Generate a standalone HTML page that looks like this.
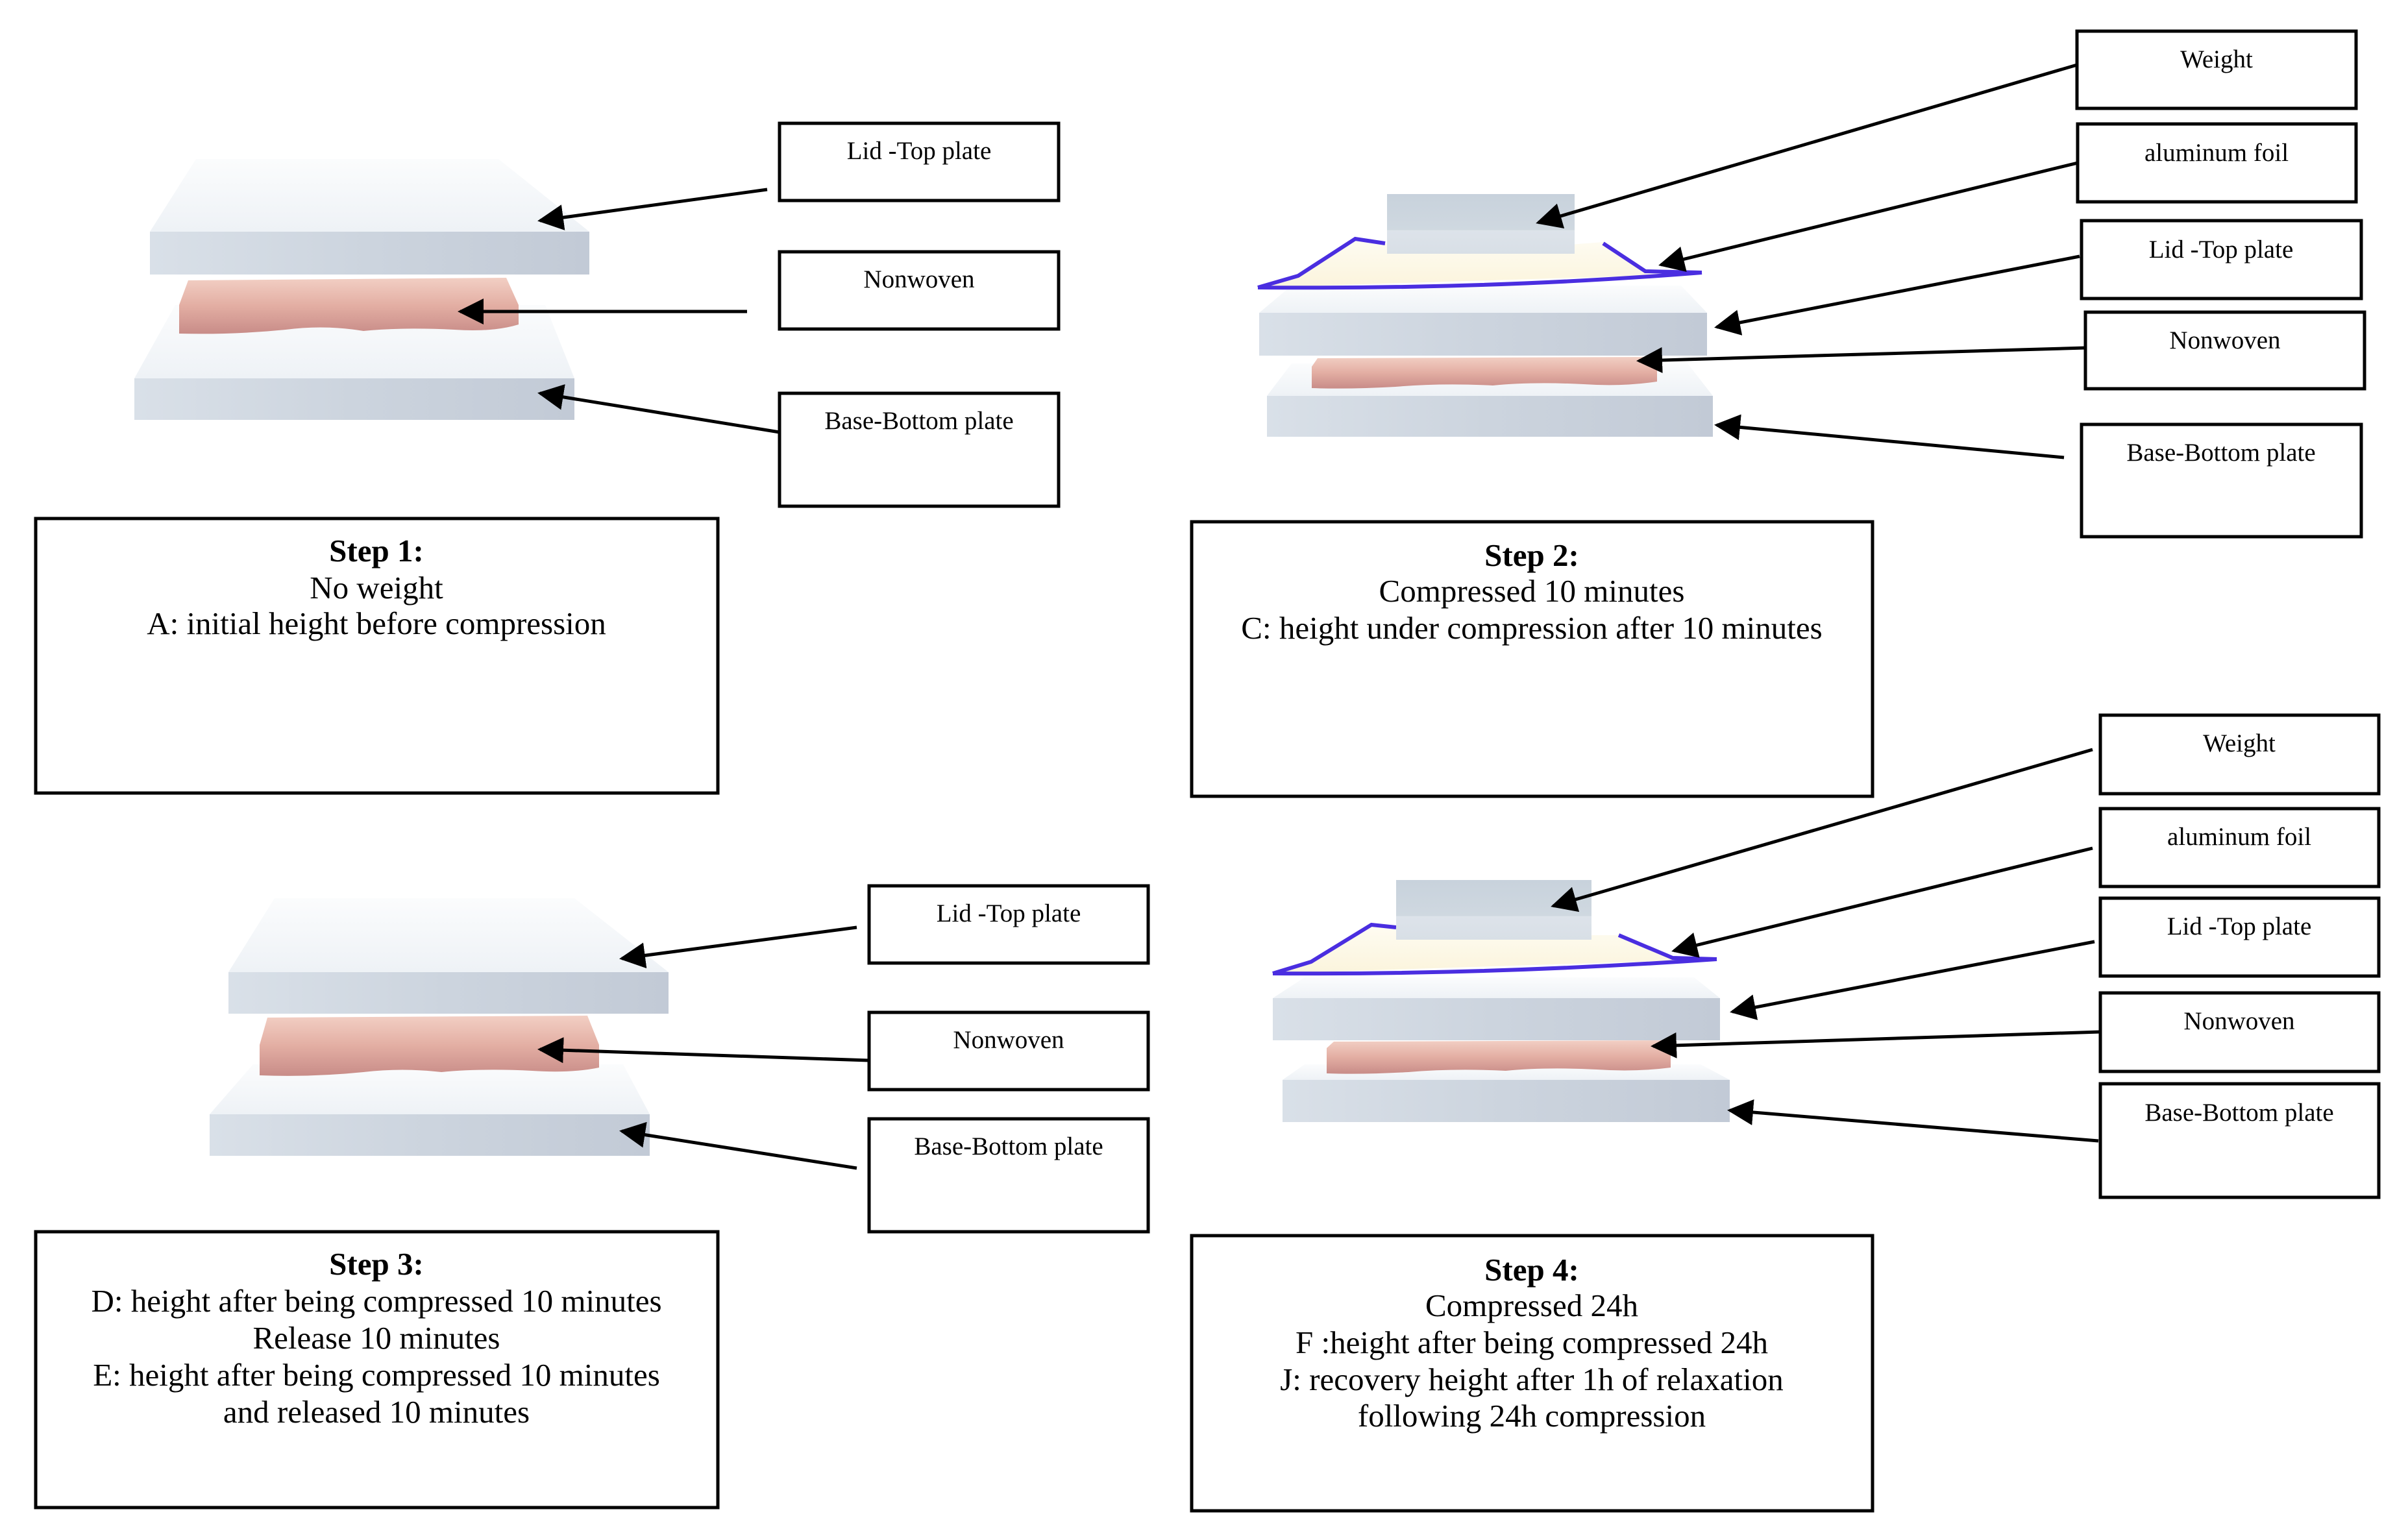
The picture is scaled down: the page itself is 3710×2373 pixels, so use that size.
<!DOCTYPE html>
<html><head><meta charset="utf-8"><style>html,body{margin:0;padding:0;background:#fff}svg{display:block}</style></head>
<body>
<svg width="3710" height="2373" viewBox="0 0 3710 2373" xmlns="http://www.w3.org/2000/svg">
<defs>
<marker id="a" viewBox="0 0 10 10" refX="9" refY="5" markerWidth="40" markerHeight="40" markerUnits="userSpaceOnUse" orient="auto"><path d="M0,0 L10,5 L0,10 z" fill="#000"/></marker>
<linearGradient id="top" x1="0" y1="0" x2="0" y2="1"><stop offset="0" stop-color="#fbfcfd"/><stop offset="1" stop-color="#eef2f6"/></linearGradient>
<linearGradient id="front" x1="0" y1="0" x2="1" y2="0"><stop offset="0" stop-color="#d9e0e8"/><stop offset="0.5" stop-color="#ccd4de"/><stop offset="1" stop-color="#c2cad6"/></linearGradient>
<linearGradient id="nw" x1="0" y1="0" x2="0" y2="1"><stop offset="0" stop-color="#f2cfc4"/><stop offset="0.5" stop-color="#e3aea3"/><stop offset="1" stop-color="#c88c88"/></linearGradient>
<linearGradient id="wt" x1="0" y1="0" x2="0" y2="1"><stop offset="0" stop-color="#c8d2dc"/><stop offset="0.6" stop-color="#cfd8e0"/><stop offset="0.61" stop-color="#dde3ea"/><stop offset="1" stop-color="#d8dfe6"/></linearGradient>
<linearGradient id="foil" x1="0" y1="0" x2="0" y2="1"><stop offset="0" stop-color="#fefcf2"/><stop offset="1" stop-color="#fbf4dc"/></linearGradient>
</defs>
<g fill="none" stroke="#000" stroke-width="5">
<rect x="1201" y="190" width="430" height="119"/>
<rect x="1201" y="388" width="430" height="119"/>
<rect x="1201" y="606" width="430" height="174"/>
<rect x="55" y="799" width="1051" height="423"/>
<rect x="3200" y="48" width="430" height="119"/>
<rect x="3201" y="191" width="429" height="120"/>
<rect x="3207" y="340" width="431" height="120"/>
<rect x="3213" y="481" width="430" height="118"/>
<rect x="3207" y="654" width="431" height="173"/>
<rect x="1836" y="804" width="1049" height="423"/>
<rect x="1339" y="1365" width="430" height="119"/>
<rect x="1339" y="1560" width="430" height="119"/>
<rect x="1339" y="1724" width="430" height="174"/>
<rect x="55" y="1898" width="1051" height="425"/>
<rect x="3236" y="1102" width="429" height="121"/>
<rect x="3236" y="1246" width="429" height="120"/>
<rect x="3236" y="1384" width="429" height="120"/>
<rect x="3236" y="1530" width="429" height="121"/>
<rect x="3236" y="1670" width="429" height="175"/>
<rect x="1836" y="1904" width="1049" height="424"/>
</g>

<polygon points="270,470 840,470 885,583 207,583" fill="url(#top)"/>
<rect x="207" y="583" width="678" height="64" fill="url(#front)"/>
<path d="M290,432 L780,428 L799,470 L799,500 Q760,512 700,508 Q620,504 560,510 Q500,500 440,508 Q360,516 276,514 L276,470 Z" fill="url(#nw)"/>
<polygon points="302,245 768,245 908,357 231,357" fill="url(#top)"/>
<rect x="231" y="357" width="677" height="66" fill="url(#front)"/>

<polygon points="390,1640 960,1640 1001,1717 323,1717" fill="url(#top)"/>
<rect x="323" y="1717" width="678" height="64" fill="url(#front)"/>
<path d="M412,1568 L905,1565 L923,1610 L923,1645 Q880,1654 820,1650 Q740,1646 680,1652 Q620,1645 560,1652 Q480,1660 400,1657 L400,1610 Z" fill="url(#nw)"/>
<polygon points="423,1384 885,1384 1030,1498 352,1498" fill="url(#top)"/>
<rect x="352" y="1498" width="678" height="64" fill="url(#front)"/>

<polygon points="1990,560 2600,560 2639,610 1952,610" fill="url(#top)"/>
<rect x="1952" y="610" width="687" height="63" fill="url(#front)"/>
<path d="M2030,552 L2545,550 L2553,565 L2553,588 Q2500,596 2440,592 Q2360,588 2300,594 Q2220,590 2150,596 Q2080,600 2021,598 L2021,565 Z" fill="url(#nw)"/>
<polygon points="1990,440 2590,440 2630,482 1940,482" fill="url(#top)"/>
<rect x="1940" y="482" width="690" height="66" fill="url(#front)"/>
<path d="M1938,443 L2000,425 L2088,368 L2134,375 L2300,386 L2470,373 L2535,422 L2622,422" fill="url(#foil)" stroke="none"/>
<path d="M1938,443 L2000,425 L2088,368 L2134,375 M2470,375 L2535,418 L2622,420 M1938,443 Q2300,446 2622,420" fill="none" stroke="#4a2ee0" stroke-width="6"/>
<rect x="2137" y="299" width="289" height="92" fill="url(#wt)"/>

<polygon points="2010,1640 2620,1640 2665,1664 1976,1664" fill="url(#top)"/>
<rect x="1976" y="1664" width="689" height="65" fill="url(#front)"/>
<path d="M2055,1605 L2570,1603 L2574,1615 L2574,1645 Q2520,1652 2460,1648 Q2380,1644 2320,1650 Q2240,1646 2170,1652 Q2100,1656 2044,1654 L2044,1615 Z" fill="url(#nw)"/>
<polygon points="2010,1506 2610,1506 2650,1538 1961,1538" fill="url(#top)"/>
<rect x="1961" y="1538" width="689" height="65" fill="url(#front)"/>
<path d="M1961,1500 L2020,1480 L2113,1425 L2151,1429 L2300,1441 L2494,1441 L2577,1478 L2645,1478" fill="url(#foil)" stroke="none"/>
<path d="M1961,1500 L2020,1482 L2113,1425 L2151,1429 M2494,1441 L2577,1476 L2645,1478 M1961,1500 Q2300,1502 2645,1478" fill="none" stroke="#4a2ee0" stroke-width="6"/>
<rect x="2151" y="1356" width="301" height="92" fill="url(#wt)"/>

<g stroke="#000" stroke-width="5" fill="none" marker-end="url(#a)">
<line x1="1182" y1="292" x2="832" y2="340"/>
<line x1="1151" y1="480" x2="709" y2="480"/>
<line x1="1201" y1="666" x2="832" y2="606"/>
<line x1="1320" y1="1429" x2="958" y2="1477"/>
<line x1="1339" y1="1634" x2="832" y2="1617"/>
<line x1="1320" y1="1800" x2="958" y2="1743"/>
<line x1="3200" y1="100" x2="2370" y2="343"/>
<line x1="3201" y1="251" x2="2559" y2="408"/>
<line x1="3204" y1="395" x2="2645" y2="504"/>
<line x1="3213" y1="536" x2="2525" y2="556"/>
<line x1="3180" y1="705" x2="2645" y2="655"/>
<line x1="3224" y1="1155" x2="2393" y2="1396"/>
<line x1="3224" y1="1307" x2="2579" y2="1465"/>
<line x1="3227" y1="1451" x2="2669" y2="1559"/>
<line x1="3236" y1="1590" x2="2547" y2="1612"/>
<line x1="3233" y1="1758" x2="2665" y2="1711"/>
</g>

<g font-family="Liberation Serif, serif" font-size="39" text-anchor="middle" fill="#000">
<text x="1416" y="245">Lid -Top plate</text>
<text x="1416" y="443">Nonwoven</text>
<text x="1416" y="661">Base-Bottom plate</text>
<text x="3415" y="104">Weight</text>
<text x="3415" y="248">aluminum foil</text>
<text x="3422" y="397">Lid -Top plate</text>
<text x="3428" y="537">Nonwoven</text>
<text x="3422" y="710">Base-Bottom plate</text>
<text x="1554" y="1420">Lid -Top plate</text>
<text x="1554" y="1615">Nonwoven</text>
<text x="1554" y="1779">Base-Bottom plate</text>
<text x="3450" y="1158">Weight</text>
<text x="3450" y="1302">aluminum foil</text>
<text x="3450" y="1440">Lid -Top plate</text>
<text x="3450" y="1586">Nonwoven</text>
<text x="3450" y="1727">Base-Bottom plate</text>
</g>
<g font-family="Liberation Serif, serif" font-size="49" text-anchor="middle" fill="#000">
<text x="580" y="865" font-weight="bold">Step 1:</text>
<text x="580" y="922">No weight</text>
<text x="580" y="977">A: initial height before compression</text>
<text x="2360" y="872" font-weight="bold">Step 2:</text>
<text x="2360" y="927">Compressed 10 minutes</text>
<text x="2360" y="984">C: height under compression after 10 minutes</text>
<text x="580" y="1964" font-weight="bold">Step 3:</text>
<text x="580" y="2021">D: height after being compressed 10 minutes</text>
<text x="580" y="2078">Release 10 minutes</text>
<text x="580" y="2135">E: height after being compressed 10 minutes</text>
<text x="580" y="2192">and released 10 minutes</text>
<text x="2360" y="1973" font-weight="bold">Step 4:</text>
<text x="2360" y="2028">Compressed 24h</text>
<text x="2360" y="2085">F :height after being compressed 24h</text>
<text x="2360" y="2142">J: recovery height after 1h of relaxation</text>
<text x="2360" y="2198">following 24h compression</text>
</g>
</svg>
</body></html>
